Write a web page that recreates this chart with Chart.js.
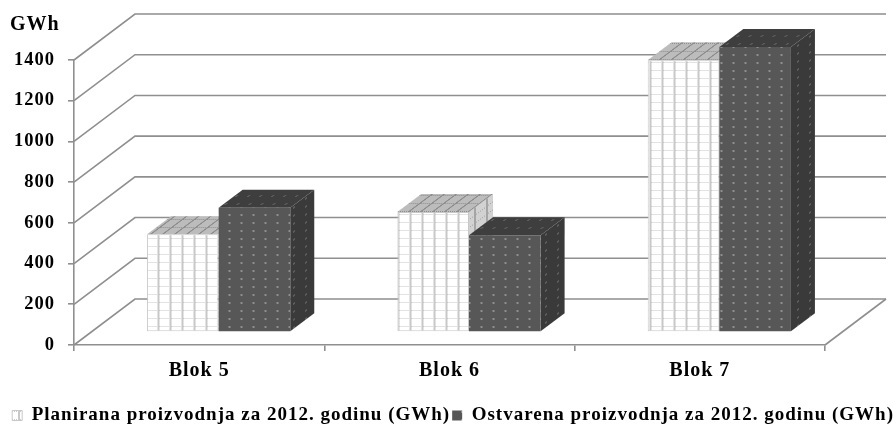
<!DOCTYPE html>
<html>
<head>
<meta charset="utf-8">
<script src="https://cdn.jsdelivr.net/npm/chart.js@4"></script>
<style>
  body { margin: 0; background: #fff; }
  canvas { display: block; }
</style>
</head>
<body>
<canvas id="mycanvas" width="896" height="425"></canvas>
<script>
var categories = ['Blok 5', 'Blok 6', 'Blok 7'];
var planned = [480, 590, 1335];
var actual = [610, 475, 1400];
var plannedLabel = 'Planirana proizvodnja za 2012. godinu (GWh)';
var actualLabel = 'Ostvarena proizvodnja za 2012. godinu (GWh)';
var unitLabel = 'GWh';

var fontFamily = '"Liberation Serif", serif';
var lineColor = '#8f8f8f';

// wall depth and bar depth of the fake 3D box
var wallX = 61, wallY = -46;
var barDepthX = 24, barDepthY = -18;
var barShiftX = 19.5, barShiftY = -13;

function gridTile(bg, line) {
  var c = document.createElement('canvas');
  c.width = 12; c.height = 8;
  var x = c.getContext('2d');
  x.fillStyle = bg;
  x.fillRect(0, 0, 12, 8);
  x.fillStyle = line;
  x.fillRect(6, 0, 2, 8);
  for (var i = 0; i < 12; i += 2) x.fillRect(i, 3, 1, 1);
  return x.createPattern(c, 'repeat');
}

function dotTile(bg, dot) {
  var c = document.createElement('canvas');
  c.width = 12; c.height = 8;
  var x = c.getContext('2d');
  x.fillStyle = bg;
  x.fillRect(0, 0, 12, 8);
  x.fillStyle = dot;
  x.fillRect(5, 3, 2, 2);
  return x.createPattern(c, 'repeat');
}

var plannedFront = gridTile('#ffffff', '#c8c8c8');
var plannedTop = gridTile('#bcbcbc', '#8e8e8e');
var plannedSide = gridTile('#d2d2d2', '#a5a5a5');
var actualFront = dotTile('#575757', '#8e8e8e');
var actualTop = dotTile('#3e3e3e', '#5c5c5c');
var actualSide = dotTile('#3a3a3a', '#5c5c5c');

var box3d = {
  id: 'box3d',
  // the context state is reset when the canvas is sized, so set the wide text here
  beforeLayout: function(chart) {
    chart.ctx.letterSpacing = '1px';
  },
  afterLayout: function(chart) {
    chart.legend.top += 10;
  },
  beforeDatasetsDraw: function(chart) {
    var c = chart.ctx, a = chart.chartArea, y = chart.scales.y;
    c.save();
    c.strokeStyle = lineColor;
    c.lineWidth = 1.6;
    y.ticks.forEach(function(t) {
      var py = y.getPixelForValue(t.value);
      c.beginPath();
      c.moveTo(a.left, py);
      c.lineTo(a.left + wallX, py + wallY);
      c.lineTo(a.right + wallX, py + wallY);
      c.stroke();
    });
    c.beginPath();
    c.moveTo(a.right, a.bottom);
    c.lineTo(a.right + wallX, a.bottom + wallY);
    c.stroke();
    c.restore();
  },
  // bars are painted below so the second series stays in front of the first
  beforeDatasetDraw: function() { return false; },
  afterDatasetsDraw: function(chart) {
    var c = chart.ctx;
    var faces = [[plannedTop, plannedSide], [actualTop, actualSide]];
    [0, 1].forEach(function(d) {
      chart.getDatasetMeta(d).data.forEach(function(el) {
        var p = el.getProps(['x', 'y', 'base', 'width']);
        var r = p.x + p.width / 2 + barShiftX;
        var l = p.x - p.width / 2 + barShiftX;
        var t = p.y + barShiftY;
        var b = p.base + barShiftY;

        c.save();
        c.beginPath();
        c.moveTo(r, t);
        c.lineTo(r + barDepthX, t + barDepthY);
        c.lineTo(r + barDepthX, b + barDepthY);
        c.lineTo(r, b);
        c.closePath();
        c.transform(1, barDepthY / barDepthX, 0, 1, 0, 0);
        c.fillStyle = faces[d][1];
        c.fill();
        c.restore();

        c.save();
        c.beginPath();
        c.moveTo(l, t);
        c.lineTo(l + barDepthX, t + barDepthY);
        c.lineTo(r + barDepthX, t + barDepthY);
        c.lineTo(r, t);
        c.closePath();
        c.transform(1, 0, barDepthX / barDepthY, 1, 0, 0);
        c.fillStyle = faces[d][0];
        c.fill();
        c.restore();

        c.save();
        c.translate(barShiftX, barShiftY);
        el.draw(c);
        c.restore();
      });
    });
  }
};

var ctx = document.getElementById('mycanvas');

var barGraph = new Chart(ctx, {
  type: 'bar',
  plugins: [box3d],
  data: {
    labels: categories,
    datasets: [
      { label: plannedLabel, data: planned, backgroundColor: plannedFront, borderColor: '#c8c8c8', borderWidth: 1, borderSkipped: false, barPercentage: 1, categoryPercentage: 0.572 },
      { label: actualLabel, data: actual, backgroundColor: actualFront, borderWidth: 0, barPercentage: 1, categoryPercentage: 0.572 }
    ]
  },
  options: {
    responsive: false,
    animation: false,
    layout: { padding: { left: 10, top: 13, right: 0, bottom: 0 } },
    plugins: {
      tooltip: { enabled: false },
      title: {
        display: true,
        text: unitLabel,
        align: 'start',
        color: '#000',
        font: { family: fontFamily, size: 20, weight: 'bold' },
        padding: { top: 0, bottom: 23 }
      },
      legend: {
        position: 'bottom',
        align: 'end',
        labels: {
          color: '#000',
          boxWidth: 10,
          boxHeight: 10,
          padding: 2,
          font: { family: fontFamily, size: 19, weight: 'bold' }
        }
      }
    },
    scales: {
      x: {
        afterFit: function(s) { s.height = 49; },
        grid: { drawOnChartArea: false, tickLength: 6, color: lineColor, lineWidth: 1.6 },
        border: { color: lineColor, width: 1.6 },
        ticks: { color: '#000', padding: 8, font: { family: fontFamily, size: 20, weight: 'bold' } }
      },
      y: {
        min: 0,
        max: 1400,
        afterFit: function(s) { s.width = 64; },
        grid: { drawOnChartArea: false, tickLength: 6, color: lineColor, lineWidth: 1.6 },
        border: { color: lineColor, width: 1.6 },
        ticks: {
          stepSize: 200,
          color: '#000',
          padding: 13,
          font: { family: fontFamily, size: 18.5, weight: 'bold' },
          callback: function(v) { return String(v); }
        }
      },
      // empty axis that keeps the floor clear of the right edge
      rightGap: {
        position: 'right',
        afterFit: function(s) { s.width = 71; },
        grid: { display: false },
        border: { display: false },
        ticks: { display: false }
      }
    }
  }
});
</script>
</body>
</html>
